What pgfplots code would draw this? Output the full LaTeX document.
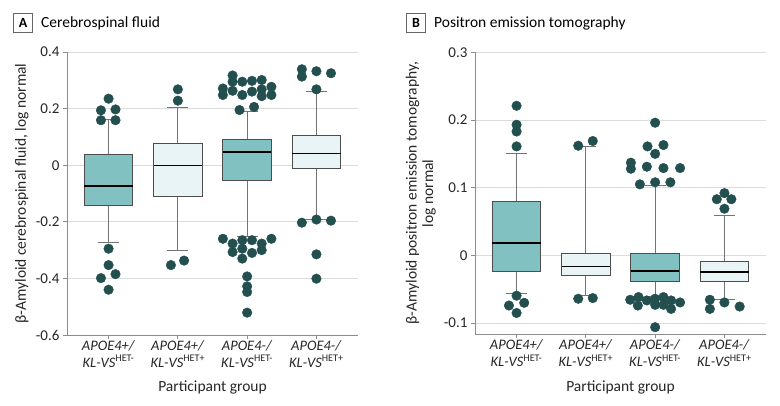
\documentclass[border=0pt]{standalone}
\usepackage{fontspec}
\setmainfont{Carlito}
\usepackage{pgfplots}
\pgfplotsset{compat=1.18}
\usepgfplotslibrary{statistics}

\definecolor{tealfill}{HTML}{82C1C1}
\definecolor{lightfill}{HTML}{E8F4F5}
\definecolor{dotcol}{HTML}{234F4F}
\definecolor{boxline}{HTML}{4D4D4D}
\definecolor{gridcol}{HTML}{DCDCDC}
\definecolor{axiscol}{HTML}{8C8C8C}

\pgfplotsset{
  panel/.style={
    scale only axis, width=291pt, height=283pt,
    xmin=-0.6, xmax=3.6,
    axis x line*=bottom, axis y line*=left,
    axis line style={axiscol, line width=0.8pt},
    xtick={0,1,2,3},
    xticklabels={
      {\textit{APOE4+/}\\\textit{KL-VS}\textsuperscript{HET-}},
      {\textit{APOE4+/}\\\textit{KL-VS}\textsuperscript{HET+}},
      {\textit{APOE4-/}\\\textit{KL-VS}\textsuperscript{HET-}},
      {\textit{APOE4-/}\\\textit{KL-VS}\textsuperscript{HET+}}},
    xticklabel style={align=center, font=\fontsize{14.5}{17}\selectfont, text=black!85, inner sep=1pt},
    yticklabel style={font=\fontsize{15}{16}\selectfont, text=black!85},
    tick style={axiscol, line width=0.8pt},
    tick align=outside, major tick length=4pt,
    ymajorgrids, grid style={gridcol, line width=0.8pt},
    xlabel={Participant group},
    xlabel style={font=\fontsize{15.5}{16}\selectfont, text=black!85, at={(axis description cs:0.5,0)}, yshift=-46pt, anchor=north, inner sep=0pt},
    ylabel style={font=\fontsize{15.5}{16.5}\selectfont, text=black!85, align=center},
    boxplot/draw direction=y,
    boxplot/every median/.style={black, line width=1.4pt},
    boxplot/every whisker/.style={draw=black!55, line width=0.8pt},
    boxplot/box extend=0.7, boxplot/whisker extend=0.3,
    clip=false,
  },
  dots/.style={only marks, mark=*, mark size=4.8pt, mark options={fill=dotcol, draw=dotcol}},
}

\begin{document}
\begin{tikzpicture}
\useasboundingbox (0,0) rectangle (780pt,405pt);

% Panel A
\node[draw=black!60, line width=0.7pt, minimum size=19pt, inner sep=0pt, font=\bfseries\fontsize{14}{15}\selectfont] at (23pt,382pt) {A};
\node[anchor=west, inner sep=0pt, font=\fontsize{15.5}{16}\selectfont] at (41pt,382pt) {Cerebrospinal fluid};

\begin{axis}[panel, at={(67pt,70pt)}, anchor=south west,
  ymin=-0.6, ymax=0.4,
  ytick={-0.6,-0.4,-0.2,0,0.2,0.4},
  yticklabels={-0.6,-0.4,-0.2,0,0.2,0.4},
  ylabel={β-Amyloid cerebrospinal fluid, log normal},
  ylabel style={at={(axis description cs:-0.155,0.5)}, anchor=center},
]
\addplot[draw=boxline, fill=tealfill, line width=0.8pt, boxplot prepared={draw position=0,
  median=-0.073, upper quartile=0.038, lower quartile=-0.141, upper whisker=0.162, lower whisker=-0.273}]
  coordinates {};
\addplot[draw=boxline, fill=lightfill, line width=0.8pt, boxplot prepared={draw position=1,
  median=-0.002, upper quartile=0.077, lower quartile=-0.109, upper whisker=0.204, lower whisker=-0.300}]
  coordinates {};
\addplot[draw=boxline, fill=tealfill, line width=0.8pt, boxplot prepared={draw position=2,
  median=0.046, upper quartile=0.092, lower quartile=-0.053, upper whisker=0.189, lower whisker=-0.250}]
  coordinates {};
\addplot[draw=boxline, fill=lightfill, line width=0.8pt, boxplot prepared={draw position=3,
  median=0.041, upper quartile=0.104, lower quartile=-0.012, upper whisker=0.262, lower whisker=-0.192}]
  coordinates {};

\addplot[dots] coordinates {
  (0,0.235) (-0.11,0.194) (0.10,0.197) (-0.11,0.159) (0.10,0.159)
  (0,-0.295) (0,-0.353) (-0.11,-0.399) (0.10,-0.385) (0,-0.440)
  (1,0.268) (1,0.228) (0.90,-0.353) (1.09,-0.337)
  (1.79,0.317) (1.79,0.295) (1.79,0.263) (1.65,0.271) (1.65,0.248)
  (1.93,0.295) (1.93,0.248) (2.07,0.298) (2.07,0.260) (2.21,0.301)
  (2.21,0.268) (2.21,0.244) (2.35,0.277) (2.35,0.248) (1.89,0.195) (2.10,0.206)
  (1.65,-0.260) (1.79,-0.277) (1.79,-0.307) (1.93,-0.265) (1.93,-0.295)
  (1.93,-0.330) (2.07,-0.265) (2.07,-0.310) (2.21,-0.277) (2.21,-0.300)
  (2.35,-0.260) (2,-0.393) (2,-0.428) (2,-0.448) (2,-0.521)
  (2.79,0.339) (2.79,0.313) (3,0.332) (3.21,0.325) (3,0.268)
  (2.79,-0.203) (3,-0.192) (3.21,-0.196) (3,-0.315) (3,-0.401)
};
\end{axis}

% Panel B
\node[draw=black!60, line width=0.7pt, minimum size=19pt, inner sep=0pt, font=\bfseries\fontsize{14}{15}\selectfont] at (416pt,382pt) {B};
\node[anchor=west, inner sep=0pt, font=\fontsize{15.5}{16}\selectfont] at (434pt,382pt) {Positron emission tomography};

\begin{axis}[panel, at={(475pt,70.7pt)}, anchor=south west, height=282pt,
  ymin=-0.1165, ymax=0.3,
  ytick={-0.1,0,0.1,0.2,0.3},
  yticklabels={-0.1,0,0.1,0.2,0.3},
  ylabel={β-Amyloid positron emission tomography,\\log normal},
  ylabel style={at={(axis description cs:-0.186,0.5)}, anchor=center},
]
\addplot[draw=boxline, fill=tealfill, line width=0.8pt, boxplot prepared={draw position=0,
  median=0.0183, upper quartile=0.0798, lower quartile=-0.023, upper whisker=0.151, lower whisker=-0.0556}]
  coordinates {};
\addplot[draw=boxline, fill=lightfill, line width=0.8pt, boxplot prepared={draw position=1,
  median=-0.0167, upper quartile=0.0025, lower quartile=-0.029, upper whisker=0.161, lower whisker=-0.059}]
  coordinates {};
\addplot[draw=boxline, fill=tealfill, line width=0.8pt, boxplot prepared={draw position=2,
  median=-0.023, upper quartile=0.0035, lower quartile=-0.0384, upper whisker=0.104, lower whisker=-0.060}]
  coordinates {};
\addplot[draw=boxline, fill=lightfill, line width=0.8pt, boxplot prepared={draw position=3,
  median=-0.0246, upper quartile=-0.0089, lower quartile=-0.0384, upper whisker=0.0587, lower whisker=-0.065}]
  coordinates {};

\addplot[dots] coordinates {
  (0,0.221) (0,0.193) (0,0.183) (0,0.161)
  (0,-0.0595) (-0.11,-0.074) (0.11,-0.070) (0,-0.085)
  (0.89,0.162) (1.10,0.169) (0.89,-0.064) (1.10,-0.063)
  (2,0.196) (1.89,0.161) (2.12,0.163) (2,0.150) (1.65,0.137) (1.65,0.128)
  (1.88,0.131) (2.12,0.129) (2.36,0.129) (1.78,0.105) (2,0.108) (2.22,0.108)
  (1.64,-0.0655) (1.76,-0.0615) (1.75,-0.074) (1.88,-0.0665) (2,-0.064)
  (2,-0.073) (2.12,-0.0615) (2.12,-0.073) (2.23,-0.0665) (2.23,-0.079)
  (2.36,-0.0695) (2,-0.106)
  (3,0.092) (2.89,0.083) (3.10,0.083) (3,0.069)
  (2.79,-0.0655) (2.79,-0.079) (3,-0.0695) (3.22,-0.0755)
};
\end{axis}
\end{tikzpicture}
\end{document}
